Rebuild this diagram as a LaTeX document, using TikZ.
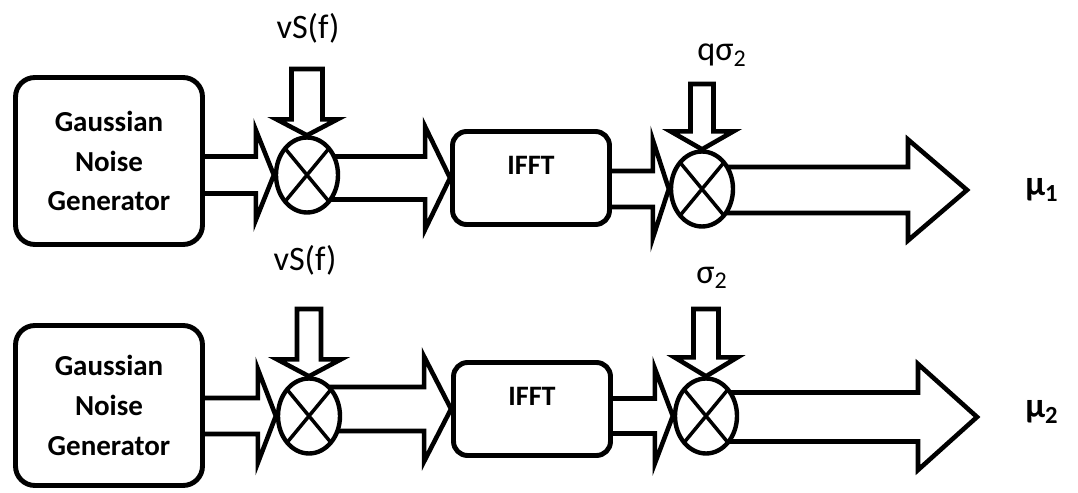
\documentclass[tikz,border=0pt]{standalone}
\usepackage{fontspec}
\setmainfont{Carlito}
\usetikzlibrary{positioning, calc, shapes.geometric, backgrounds}

% hollow block arrows: #1 from, #2 tip, #3 shaft half width, #4 head half width, #5 head length
\newcommand{\hfat}[5]{\draw[fat] ($(#1|-#2)+(0,-#3)$) -- ($(#2)+(-#5,-#3)$) -- ($(#2)+(-#5,-#4)$)
  -- (#2) -- ($(#2)+(-#5,#4)$) -- ($(#2)+(-#5,#3)$) -- ($(#1|-#2)+(0,#3)$);}
\newcommand{\vfat}[5]{\draw[fat] ($(#2|-#1)+(-#3,0)$) -- ($(#2)+(-#3,-#5)$) -- ($(#2)+(-#4,-#5)$)
  -- (#2) -- ($(#2)+(#4,-#5)$) -- ($(#2)+(#3,-#5)$) -- ($(#2|-#1)+(#3,0)$) -- cycle;}

\begin{document}
\begin{tikzpicture}[x=0.02cm, y=-0.02cm,
    genbox/.style={draw, fill=white, rounded corners=11pt, line width=2.8pt,
                   minimum width=3.74cm, align=center,
                   font=\bfseries\fontsize{16.5}{22.7}\selectfont},
    fftbox/.style={draw, fill=white, rounded corners=8pt, line width=2.8pt,
                   minimum width=3.14cm, minimum height=1.86cm,
                   text height=0.7em, text depth=1.1em,
                   font=\bfseries\fontsize{16}{18}\selectfont},
    mix/.style={draw, fill=white, ellipse, line width=2.5pt, inner sep=0pt,
                minimum width=1.24cm, minimum height=1.5cm,
                path picture={\draw[line width=2pt]
                  (path picture bounding box.north west) -- (path picture bounding box.south east)
                  (path picture bounding box.north east) -- (path picture bounding box.south west);}},
    fat/.style={draw, line width=2.6pt},
    lbl/.style={font=\fontsize{19.5}{21}\selectfont},
    outlbl/.style={font=\bfseries\fontsize{20}{22}\selectfont},
]
\useasboundingbox (0,0) rectangle (1078,493);
% --- upper chain: output mu_1 ------------------------------------------------
\node[genbox, minimum height=3.34cm] (gen1) at (109,161) {Gaussian\\Noise\\Generator};
\node[mix] (mix1a) at (307,175) {};
\node[fftbox] (ifft1) at (531,178) {IFFT};
\node[mix] (mix1b) at (702,189) {};
\coordinate (top1a) at (307,69);
\coordinate (top1b) at (703,84);
\coordinate (out1) at (967,190);
\node[lbl] (sf1) at (308,28) {vS(f)};
\node[lbl] (qs1) at (722,55) {qσ\textsubscript{2}};
\node[outlbl] (mu1) at (1042,190) {μ\textsubscript{1}};
\begin{scope}[on background layer]
  \hfat{gen1.center}{mix1a.west}{18.5}{45}{18}
  \hfat{mix1a.center}{ifft1.west}{21.5}{51.5}{25}
  \hfat{ifft1.center}{mix1b.west}{18}{49}{16}
  \hfat{mix1b.center}{out1}{23}{50.5}{59}
  \vfat{top1a}{mix1a.north}{15.5}{30.5}{16}
  \vfat{top1b}{mix1b.north}{11.5}{31.5}{18}
\end{scope}
% --- lower chain: output mu_2 ------------------------------------------------
\node[genbox, minimum height=3.2cm] (gen2) at (109,405.5) {Gaussian\\Noise\\Generator};
\node[mix] (mix2a) at (309,416) {};
\node[fftbox] (ifft2) at (532,409) {IFFT};
\node[mix] (mix2b) at (706,416) {};
\coordinate (top2a) at (309,309);
\coordinate (top2b) at (707,309);
\coordinate (out2) at (977,417);
\node[lbl] (sf2) at (305,260) {vS(f)};
\node[lbl] (s2) at (712,278) {σ\textsubscript{2}};
\node[outlbl] (mu2) at (1042,412) {μ\textsubscript{2}};
\begin{scope}[on background layer]
  \hfat{gen2.center}{mix2a.west}{18}{47}{18}
  \hfat{mix2a.center}{ifft2.west}{22}{52.5}{27}
  \hfat{ifft2.center}{mix2b.west}{17.5}{47.5}{18}
  \hfat{mix2b.center}{out2}{24.5}{53}{59}
  \vfat{top2a}{mix2a.north}{12}{32}{17}
  \vfat{top2b}{mix2b.north}{12.5}{31.5}{19}
\end{scope}
\end{tikzpicture}
\end{document}
